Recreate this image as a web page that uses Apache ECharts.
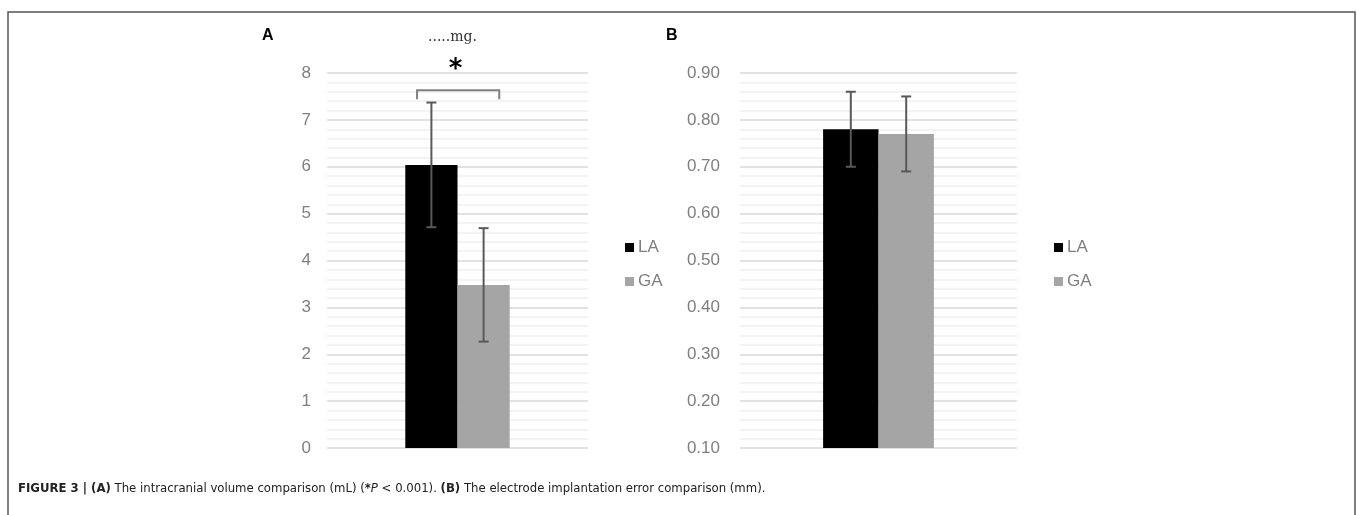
<!DOCTYPE html>
<html lang="en">
<head>
    <meta charset="UTF-8">
    <title>Figure 3</title>
    <script src="https://cdn.jsdelivr.net/npm/echarts/dist/echarts.min.js"></script>
    <style>
        html, body { margin: 0; padding: 0; background: #fff; }
    </style>
</head>
<body>
    <div id="chart" style="width: 1357px; height: 515px;"></div>
    <script>
        // data
        const groups = ['LA', 'GA'];
        const volumeMean = [6.04, 3.48];      // panel A, mL
        const volumeErr = [1.33, 1.21];
        const errorMean = [0.78, 0.77];       // panel B, mm
        const errorErr = [0.08, 0.08];
        const ticksA = [0, 1, 2, 3, 4, 5, 6, 7, 8];
        const ticksB = [0.10, 0.20, 0.30, 0.40, 0.50, 0.60, 0.70, 0.80, 0.90];
        const barColors = ['#000000', '#a5a5a5'];

        const labelGray = '#7f7f7f';
        const capFont = 'DejaVu Sans Condensed, Liberation Sans, sans-serif';
        const chart = echarts.init(document.getElementById('chart'));

        function errData(means, errs) {
            return means.map((m, i) => [0, m - errs[i], m + errs[i], i]);
        }

        function renderErr(params, api) {
            const band = api.size([1, 0])[0];
            const idx = api.value(3);
            const off = (idx === 0 ? -1 : 1) * band * 0.1;
            const lo = api.coord([api.value(0), api.value(1)]);
            const hi = api.coord([api.value(0), api.value(2)]);
            const x = lo[0] + off;
            const cap = 5;
            const style = { stroke: '#595959', lineWidth: 2 };
            return {
                type: 'group',
                children: [
                    { type: 'line', shape: { x1: x, y1: lo[1], x2: x, y2: hi[1] }, style: style },
                    { type: 'line', shape: { x1: x - cap, y1: lo[1], x2: x + cap, y2: lo[1] }, style: style },
                    { type: 'line', shape: { x1: x - cap, y1: hi[1], x2: x + cap, y2: hi[1] }, style: style }
                ]
            };
        }

        // significance bracket for panel A
        const bracket = [[0, 7.44, 7.63, 8.05]];
        function renderBracket(params, api) {
            const band = api.size([1, 0])[0];
            const c = api.coord([0, api.value(2)]);
            const low = api.coord([0, api.value(1)])[1];
            const star = api.coord([0, api.value(3)])[1];
            const x1 = c[0] - band * 0.155;
            const x2 = c[0] + band * 0.16;
            return {
                type: 'group',
                children: [
                    { type: 'polyline', shape: { points: [[x1, low], [x1, c[1]], [x2, c[1]], [x2, low]] },
                      style: { stroke: '#808080', lineWidth: 2, fill: null } },
                    { type: 'text', x: c[0] - 2, y: star,
                      style: { text: '*', fontSize: 26, fontWeight: 'bold', fill: '#000',
                               fontFamily: 'DejaVu Sans', align: 'center', verticalAlign: 'middle' } }
                ]
            };
        }

        function yAxis(gridIndex, min, max, fmt, margin) {
            return {
                type: 'value', gridIndex: gridIndex, min: min, max: max, interval: (max - min) / 8,
                axisLine: { show: false }, axisTick: { show: false },
                axisLabel: { color: labelGray, fontSize: 17, margin: margin,
                             fontFamily: 'Liberation Sans', formatter: fmt },
                splitLine: { lineStyle: { color: '#d9d9d9', width: 1.5 } },
                minorTick: { show: false, splitNumber: 5 },
                minorSplitLine: { show: true, lineStyle: { color: '#f0f0f0', width: 1.5 } }
            };
        }

        function barSeries(name, value, gi, color) {
            return {
                name: name, type: 'bar', xAxisIndex: gi, yAxisIndex: gi,
                data: [value], barGap: '0%', barCategoryGap: '60%',
                itemStyle: { color: color }, silent: true
            };
        }

        const legendBase = {
            orient: 'vertical', icon: 'rect', itemWidth: 9, itemHeight: 9, itemGap: 17,
            data: groups,
            textStyle: { color: labelGray, fontSize: 17, fontFamily: 'Liberation Sans', padding: [0, 0, 0, -1] }
        };

        const option = {
            animation: false,
            legend: [
                Object.assign({ left: 620, top: 234 }, legendBase),
                Object.assign({ left: 1049, top: 234 }, legendBase)
            ],
            grid: [
                { left: 327, right: 769, top: 73, bottom: 67 },
                { left: 740, right: 340, top: 73, bottom: 67 }
            ],
            xAxis: [
                { type: 'category', gridIndex: 0, data: [''], axisLine: { show: false },
                  axisTick: { show: false }, axisLabel: { show: false } },
                { type: 'category', gridIndex: 1, data: [''], axisLine: { show: false },
                  axisTick: { show: false }, axisLabel: { show: false } }
            ],
            yAxis: [
                yAxis(0, ticksA[0], ticksA[ticksA.length - 1], v => String(v), 16),
                yAxis(1, ticksB[0], ticksB[ticksB.length - 1], v => v.toFixed(2), 20)
            ],
            series: [
                barSeries(groups[0], volumeMean[0], 0, barColors[0]),
                barSeries(groups[1], volumeMean[1], 0, barColors[1]),
                barSeries(groups[0], errorMean[0], 1, barColors[0]),
                barSeries(groups[1], errorMean[1], 1, barColors[1]),
                { type: 'custom', xAxisIndex: 0, yAxisIndex: 0, data: errData(volumeMean, volumeErr),
                  renderItem: renderErr, encode: { x: 0, y: [1, 2] }, silent: true, z: 5 },
                { type: 'custom', xAxisIndex: 1, yAxisIndex: 1, data: errData(errorMean, errorErr),
                  renderItem: renderErr, encode: { x: 0, y: [1, 2] }, silent: true, z: 5 },
                { type: 'custom', xAxisIndex: 0, yAxisIndex: 0, data: bracket,
                  renderItem: renderBracket, encode: { x: 0, y: [1, 2] }, silent: true, z: 5 }
            ],
            graphic: [
                // frame
                { type: 'polyline', shape: { points: [[8, 515], [8, 12], [1355, 12], [1355, 515]] },
                  style: { stroke: '#555', lineWidth: 1.5, fill: null } },
                { type: 'text', left: 262, top: 28,
                  style: { text: 'A', fontSize: 16, fontWeight: 'bold', fill: '#000', fontFamily: 'Liberation Sans' } },
                { type: 'text', left: 666, top: 28,
                  style: { text: 'B', fontSize: 16, fontWeight: 'bold', fill: '#000', fontFamily: 'Liberation Sans' } },
                { type: 'text', left: 428, top: 30,
                  style: { text: '.....mg.', fontSize: 14, fill: '#333', fontFamily: 'DejaVu Serif' } },
                // caption
                { type: 'text', left: 18, top: 482,
                  style: {
                      text: '{b|FIGURE 3 | (A)} The intracranial volume comparison (mL) ({b|*}{i|P} < 0.001). {b|(B)} The electrode implantation error comparison (mm).',
                      fontSize: 13, fill: '#222', fontFamily: capFont,
                      rich: {
                          b: { fontWeight: 'bold', fontSize: 13, fontFamily: capFont, fill: '#222' },
                          i: { fontStyle: 'italic', fontSize: 13, fontFamily: capFont, fill: '#222' }
                      }
                  } }
            ]
        };
        chart.setOption(option);
    </script>
</body>
</html>
